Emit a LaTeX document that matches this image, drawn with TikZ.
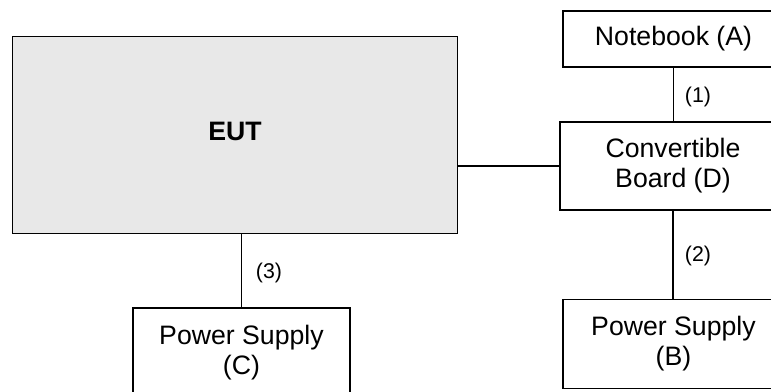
\documentclass[tikz,border=0pt]{standalone}
\usepackage{fontspec}
\setmainfont{Liberation Sans}
\begin{document}
\begin{tikzpicture}[x=0.75pt,y=-0.75pt,
  box/.style={draw=black,line width=1.1pt,fill=white,inner sep=0pt,align=center,
    font=\fontsize{20}{22.5}\selectfont},
  conn/.style={draw=black,line width=1pt},
  lbl/.style={inner sep=0pt,font=\fontsize{16}{18}\selectfont}]
\useasboundingbox (0,0) rectangle (771,392);
\clip (0,0) rectangle (771,392);
\node[box,fill={rgb,255:red,232;green,232;blue,232},minimum width={445*0.75pt},minimum height={197*0.75pt},
  font=\fontsize{20}{22.5}\selectfont\bfseries] (eut) at (235,135) {\raisebox{5.5pt}{EUT}};
\node[box,minimum width={221*0.75pt},minimum height={56*0.75pt}] (nb) at (673.5,39) {Notebook (A)};
\node[box,minimum width={226*0.75pt},minimum height={88*0.75pt}] (cb) at (673,166) {Convertible\\Board (D)};
\node[box,minimum width={221*0.75pt},minimum height={89*0.75pt}] (psb) at (673.5,344) {Power Supply\\(B)};
\node[box,minimum width={217*0.75pt},minimum height={90*0.75pt}] (psc) at (241.5,353) {Power Supply\\(C)};
\draw[conn] (cb.west -| eut.east) -- (cb.west);
\draw[conn] (nb.south) -- (nb.south |- cb.north);
\draw[conn] (cb.south) -- (cb.south |- psb.north);
\draw[conn] (psc.north |- eut.south) -- (psc.north);
\node[lbl] (l1) at (698,97) {(1)};
\node[lbl] (l2) at (698,256) {(2)};
\node[lbl] (l3) at (269,273) {(3)};
\end{tikzpicture}
\end{document}
